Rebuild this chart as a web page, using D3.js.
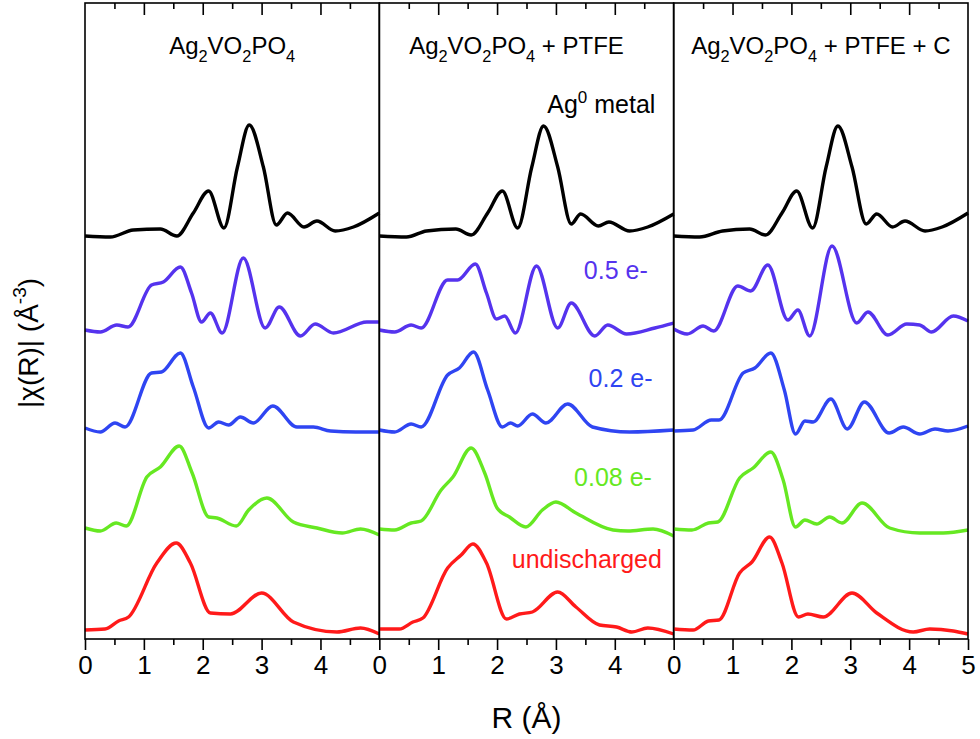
<!DOCTYPE html>
<html>
<head>
<meta charset="utf-8">
<script src="https://cdn.jsdelivr.net/npm/d3@7"></script>
<style>
  body { margin: 0; background: #fff; }
  text { font-family: "Liberation Sans", Arial, sans-serif; }
</style>
</head>
<body>
<svg id="chart" width="980" height="739"></svg>
<script>
// ---- data (R in Å, |chi(R)| in arbitrary units) ----
const rTicks = [0, 1, 2, 3, 4, 5];
const rMinor = [0.5, 1.5, 2.5, 3.5, 4.5];
const panelTitles = ["Ag_2VO_2PO_4", "Ag_2VO_2PO_4 + PTFE", "Ag_2VO_2PO_4 + PTFE + C"];
const seriesNames = ["Ag^0 metal", "0.5 e-", "0.2 e-", "0.08 e-", "undischarged"];
const seriesColors = ["#000000", "#5533ee", "#2f45f2", "#66e822", "#ff1a1a"];
const seriesOffsets = [40.0, 30.2, 20.5, 10.3, 0.5];
// label anchor positions inside the middle panel: [R, stacked value]
const labelPos = [[4.69, 52.6], [4.56, 36.0], [4.64, 25.2], [4.63, 15.3], [4.80, 7.1]];

// panel 1: Ag2VO2PO4
const p1Metal = [[0,0.3],[0.43,0.2],[0.82,0.9],[1.28,1.0],[1.56,0.3],[1.84,2.6],[2.10,4.8],[2.36,1.1],[2.59,7.2],[2.79,11.4],[3.03,7.2],[3.25,1.4],[3.44,2.6],[3.72,1.2],[3.94,1.8],[4.25,0.8],[4.56,1.2],[5,2.6]];
const p1E05 = [[0,0.7],[0.26,0.5],[0.54,1.2],[0.73,1.0],[1.13,5.2],[1.33,5.5],[1.62,7.0],[1.81,4.4],[1.98,1.5],[2.13,2.4],[2.33,0.4],[2.69,7.9],[3.06,0.9],[3.30,3.0],[3.66,0.1],[3.91,1.3],[4.22,0.4],[4.79,1.5],[5,1.5]];
const p1E02 = [[0,0.6],[0.26,0.2],[0.51,1.1],[0.68,0.7],[1.13,6.1],[1.30,6.2],[1.62,8.1],[1.84,4.7],[2.10,0.6],[2.27,1.2],[2.44,0.9],[2.64,1.7],[2.86,1.1],[3.19,2.8],[3.6,0.7],[3.88,0.7],[4.17,0.3],[4.6,0.2],[5,0.2]];
const p1E008 = [[0,0.8],[0.26,0.5],[0.53,1.3],[0.70,1.0],[1.05,5.9],[1.28,6.9],[1.60,9.0],[1.82,6.3],[2.1,1.9],[2.24,1.8],[2.57,1.0],[2.78,2.6],[3.09,3.8],[3.54,1.4],[3.94,0.8],[4.37,0.3],[4.68,0.7],[5,0.1]];
const p1Undis = [[0,0.4],[0.34,0.5],[0.57,1.3],[0.74,1.7],[1.22,7.1],[1.55,9.1],[1.79,7.1],[2.13,2.1],[2.47,2.0],[3.0,4.1],[3.54,1.2],[4.28,0.2],[4.68,0.6],[5,0.0]];

// panel 2: Ag2VO2PO4 + PTFE
const p2Metal = [[0,0.3],[0.46,0.2],[0.8,0.8],[1.3,1.0],[1.56,0.4],[1.84,2.6],[2.09,4.8],[2.35,1.1],[2.59,7.2],[2.79,11.3],[3.03,7.2],[3.26,1.5],[3.42,2.5],[3.72,1.3],[3.9,1.7],[4.25,0.8],[4.56,1.2],[5,2.5]];
const p2E05 = [[0,0.7],[0.26,0.5],[0.54,1.2],[0.71,0.9],[1.16,5.7],[1.33,5.7],[1.63,7.3],[1.82,4.4],[1.99,1.8],[2.13,2.1],[2.31,0.4],[2.67,7.1],[3.03,0.9],[3.26,3.4],[3.66,0.1],[3.88,1.2],[4.2,0.3],[4.68,0.9],[5,1.4]];
const p2E02 = [[0,0.4],[0.26,0.2],[0.54,1.0],[0.71,0.7],[1.16,5.9],[1.36,6.6],[1.6,8.2],[1.84,4.4],[2.09,0.7],[2.23,1.1],[2.35,0.8],[2.6,2.0],[2.83,1.1],[3.2,3.0],[3.62,0.7],[4.25,0.2],[5,0.4]];
const p2E008 = [[0,0.7],[0.26,0.6],[0.54,1.3],[0.71,1.5],[1.05,4.6],[1.25,5.9],[1.56,8.8],[1.79,6.3],[2.0,2.8],[2.21,1.9],[2.49,0.9],[2.77,2.6],[3.0,3.4],[3.34,2.3],[3.97,0.6],[4.22,0.5],[4.65,0.7],[5,0.0]];
const p2Undis = [[0,0.5],[0.34,0.5],[0.57,1.2],[0.74,1.6],[1.16,6.6],[1.39,7.9],[1.59,9.0],[1.82,7.1],[2.16,1.5],[2.38,2.0],[2.6,2.2],[3.03,4.2],[3.34,2.7],[3.74,0.9],[4.03,0.7],[4.29,0.2],[4.56,0.6],[5,0.0]];

// panel 3: Ag2VO2PO4 + PTFE + C
const p3Metal = [[0,0.3],[0.44,0.2],[0.83,0.8],[1.29,1.0],[1.56,0.4],[1.84,2.6],[2.09,4.8],[2.36,1.1],[2.59,7.2],[2.79,11.3],[3.03,7.2],[3.27,1.5],[3.45,2.5],[3.72,1.2],[3.93,1.8],[4.27,0.8],[4.56,1.2],[5,2.6]];
const p3E05 = [[0,0.8],[0.23,0.3],[0.5,1.1],[0.68,0.6],[1.09,5.1],[1.31,4.6],[1.6,7.2],[1.94,1.7],[2.11,2.7],[2.31,0.1],[2.69,9.1],[3.11,1.4],[3.3,2.5],[3.64,0.2],[3.96,1.3],[4.18,1.2],[4.38,0.5],[4.75,2.1],[5,1.6]];
const p3E02 = [[0,0.3],[0.33,0.4],[0.64,1.4],[0.77,1.4],[1.18,6.1],[1.38,6.6],[1.65,8.1],[1.88,4.4],[2.07,0.0],[2.23,1.3],[2.37,1.2],[2.67,3.5],[2.95,0.5],[3.24,3.2],[3.66,0.1],[3.9,0.7],[4.18,0.0],[4.44,0.5],[4.66,0.3],[5,0.8]];
const p3E008 = [[0,0.7],[0.31,0.6],[0.59,1.3],[0.75,1.4],[1.12,5.8],[1.35,6.8],[1.65,8.4],[1.86,5.6],[2.07,0.9],[2.23,1.6],[2.43,1.2],[2.65,1.9],[2.86,1.3],[3.2,3.3],[3.67,0.8],[4.18,0.3],[4.58,0.3],[5,0.6]];
const p3Undis = [[0,0.5],[0.33,0.4],[0.59,1.3],[0.77,1.4],[1.12,6.1],[1.33,7.2],[1.63,9.7],[1.84,7.1],[2.12,1.7],[2.28,2.0],[2.54,1.7],[3.03,4.1],[3.45,2.1],[4.07,0.2],[4.35,0.5],[4.75,0.3],[5,0.0]];

const panelSeries = [
  [p1Metal, p1E05, p1E02, p1E008, p1Undis],
  [p2Metal, p2E05, p2E02, p2E008, p2Undis],
  [p3Metal, p3E05, p3E02, p3E008, p3Undis]
];

// ---- layout ----
const svg = d3.select("#chart");
const margin = {top: 3, right: 12, bottom: 100, left: 85};
const plotW = 980 - margin.left - margin.right;
const plotH = 739 - margin.top - margin.bottom;
const panelW = plotW / 3;

const y = d3.scaleLinear().domain([0, 63.6]).range([margin.top + plotH, margin.top]);

// writes "Ag_2VO" style text: _x subscript, ^x superscript
function richText(sel, str, size) {
  const parts = str.split(/([_^].)/).filter(s => s.length);
  let shift = 0;
  parts.forEach(p => {
    let dy = -shift, fs = size, txt = p;
    if (p[0] === "_") { shift = size * 0.35; dy += shift; fs = size * 0.68; txt = p[1]; }
    else if (p[0] === "^") { shift = -size * 0.42; dy += shift; fs = size * 0.68; txt = p[1]; }
    else { shift = 0; }
    sel.append("tspan").attr("dy", dy).attr("font-size", fs).text(txt);
  });
}

panelSeries.forEach((series, i) => {
  const x0 = margin.left + i * panelW;
  const x = d3.scaleLinear().domain([0, 5]).range([x0, x0 + panelW]);
  const g = svg.append("g");

  // bottom axis, ticks pointing out
  const major = i < 2 ? rTicks.slice(0, 5) : rTicks;
  const bottom = g.append("g").attr("transform", `translate(0,${margin.top + plotH})`);
  bottom.append("g").call(d3.axisBottom(x).tickValues(major).tickSize(11).tickPadding(6).tickFormat(d3.format("d")))
    .call(a => a.select(".domain").remove())
    .call(a => a.selectAll("line").attr("stroke-width", 1.6))
    .call(a => a.selectAll("text").attr("font-size", 26).attr("fill", "#000").attr("font-family", "Liberation Sans, Arial, sans-serif"));
  bottom.append("g").call(d3.axisBottom(x).tickValues(rMinor).tickSize(6).tickFormat(""))
    .call(a => a.select(".domain").remove())
    .call(a => a.selectAll("line").attr("stroke-width", 1.6));

  // top axis, ticks pointing in
  const top = g.append("g").attr("transform", `translate(0,${margin.top})`);
  top.append("g").call(d3.axisTop(x).tickValues(rTicks.slice(1, 5)).tickSize(-12).tickFormat(""))
    .call(a => a.select(".domain").remove())
    .call(a => a.selectAll("line").attr("stroke-width", 1.6));
  top.append("g").call(d3.axisTop(x).tickValues(rMinor).tickSize(-6).tickFormat(""))
    .call(a => a.select(".domain").remove())
    .call(a => a.selectAll("line").attr("stroke-width", 1.6));

  const line = d3.line()
    .x(d => x(d[0]))
    .curve(d3.curveMonotoneX);

  series.forEach((pts, k) => {
    g.append("path")
      .datum(pts)
      .attr("fill", "none")
      .attr("stroke", seriesColors[k])
      .attr("stroke-width", 3.4)
      .attr("stroke-linejoin", "round")
      .attr("d", line.y(d => y(seriesOffsets[k] + d[1])));
  });

  // frame
  g.append("rect")
    .attr("x", x(0)).attr("y", margin.top)
    .attr("width", x(5) - x(0)).attr("height", plotH)
    .attr("fill", "none").attr("stroke", "#000").attr("stroke-width", 1.6);

  // panel title
  const title = g.append("text")
    .attr("x", (x(0) + x(5)) / 2 - (i === 1 ? 10 : 0))
    .attr("y", 54)
    .attr("text-anchor", "middle")
    .attr("fill", "#000");
  richText(title, panelTitles[i], 24);

  // series labels in the middle panel
  if (i === 1) {
    seriesNames.forEach((name, k) => {
      const t = g.append("text")
        .attr("x", x(labelPos[k][0]))
        .attr("y", y(labelPos[k][1]))
        .attr("text-anchor", "end")
        .attr("fill", seriesColors[k]);
      richText(t, name, 25);
    });
  }
});

// axis titles
const xt = svg.append("text")
  .attr("x", margin.left + plotW / 2)
  .attr("y", 728)
  .attr("text-anchor", "middle")
  .attr("font-size", 30);
xt.text("R (Å)");

const yt = svg.append("text")
  .attr("transform", `translate(38,343) rotate(-90)`)
  .attr("text-anchor", "middle");
richText(yt, "|χ(R)| (Å^-^3)", 28);
</script>
</body>
</html>
